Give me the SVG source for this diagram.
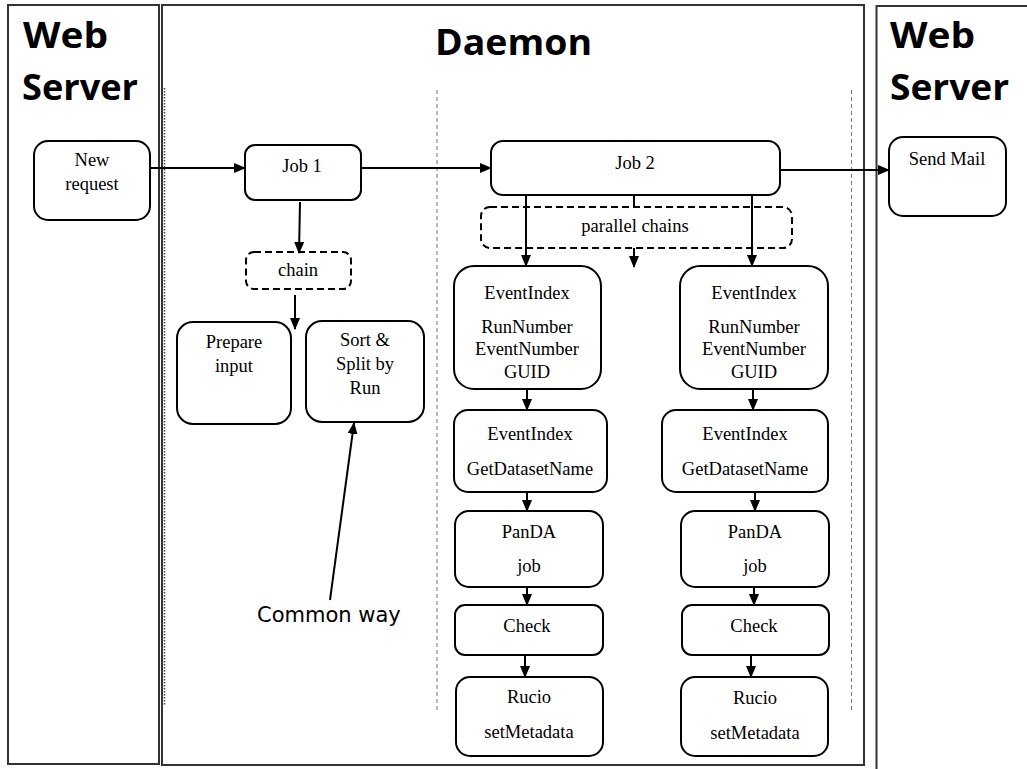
<svg xmlns="http://www.w3.org/2000/svg" width="1027" height="769" viewBox="0 0 1027 769">
<defs>
<style>
.panel{fill:none;stroke:#333;stroke-width:2}
.box{fill:#fff;stroke:#000;stroke-width:2}
.dbox{fill:none;stroke:#000;stroke-width:2;stroke-dasharray:7 4}
.t{font-family:"Liberation Serif","Times New Roman",serif;font-size:18.5px;fill:#000;text-anchor:middle}
.h{font-family:"Open Sans","Liberation Sans",sans-serif;font-weight:bold;font-size:36px;fill:#000}
.c{fill:none;stroke:#000;stroke-width:2}
.sep{stroke:#777;stroke-width:1;stroke-dasharray:4 3}
.cw{font-family:"DejaVu Sans",Verdana,sans-serif;font-size:21px;fill:#000}
</style>
<marker id="ah" markerUnits="userSpaceOnUse" markerWidth="12" markerHeight="10" refX="11" refY="5" orient="auto">
<path d="M0,0 L12,5 L0,10 Z" fill="#000"/>
</marker>
</defs>
<rect width="1027" height="769" fill="#fff"/>
<g id="panels">
<rect class="panel" x="8" y="5" width="151" height="759"/>
<rect class="panel" x="162" y="5" width="702" height="760"/>
<rect class="panel" x="876.5" y="6" width="160" height="770"/>
<line x1="164.5" y1="88" x2="164.5" y2="705" stroke="#444" stroke-width="1.5" stroke-dasharray="1.5 1.5"/>
<line class="sep" x1="437" y1="90" x2="437" y2="710"/>
<line class="sep" x1="851.5" y1="90" x2="851.5" y2="710"/>
<text class="h" x="23" y="48" textLength="85" lengthAdjust="spacingAndGlyphs">Web</text>
<text class="h" x="22" y="100" textLength="116" lengthAdjust="spacingAndGlyphs">Server</text>
<text class="h" x="435" y="55" textLength="157" lengthAdjust="spacingAndGlyphs">Daemon</text>
<text class="h" x="890" y="48" textLength="85" lengthAdjust="spacingAndGlyphs">Web</text>
<text class="h" x="890" y="100" textLength="119" lengthAdjust="spacingAndGlyphs">Server</text>
</g>
<g id="connectors">
<line class="c" x1="150" y1="168" x2="245" y2="168" marker-end="url(#ah)"/>
<line class="c" x1="361" y1="168" x2="491" y2="168" marker-end="url(#ah)"/>
<line class="c" x1="780" y1="170" x2="889" y2="170" marker-end="url(#ah)"/>
<line class="c" x1="300" y1="202" x2="299" y2="253" marker-end="url(#ah)"/>
<line class="c" x1="295" y1="295" x2="295" y2="329" marker-end="url(#ah)"/>
<line class="c" x1="330" y1="600" x2="354" y2="423" marker-end="url(#ah)"/>
<line class="c" x1="526" y1="195" x2="526" y2="266" marker-end="url(#ah)"/>
<line class="c" x1="752" y1="195" x2="752" y2="266" marker-end="url(#ah)"/>
<line class="c" x1="634" y1="195" x2="634" y2="207"/>
<line class="c" x1="634" y1="248" x2="634" y2="267" marker-end="url(#ah)"/>
<line class="c" x1="527" y1="389" x2="527" y2="410" marker-end="url(#ah)"/>
<line class="c" x1="527" y1="492" x2="527" y2="511" marker-end="url(#ah)"/>
<line class="c" x1="527" y1="587" x2="527" y2="605" marker-end="url(#ah)"/>
<line class="c" x1="525" y1="655" x2="525" y2="677" marker-end="url(#ah)"/>
<line class="c" x1="753" y1="389" x2="753" y2="410" marker-end="url(#ah)"/>
<line class="c" x1="755" y1="492" x2="755" y2="511" marker-end="url(#ah)"/>
<line class="c" x1="754" y1="587" x2="754" y2="605" marker-end="url(#ah)"/>
<line class="c" x1="751" y1="655" x2="751" y2="677" marker-end="url(#ah)"/>
</g>
<g id="new-request"><rect class="box" x="34" y="141" width="116" height="79" rx="14"/><text class="t" x="92" y="166">New</text><text class="t" x="92" y="190">request</text></g>
<g id="job1"><rect class="box" x="245" y="145" width="116" height="55" rx="10"/><text class="t" x="302" y="172">Job 1</text></g>
<g id="job2"><rect class="box" x="491" y="141" width="289" height="54" rx="12"/><text class="t" x="635" y="169">Job 2</text></g>
<g id="send-mail"><rect class="box" x="889" y="137" width="117" height="79" rx="14"/><text class="t" x="947" y="165">Send Mail</text></g>
<g id="chain"><rect class="dbox" x="246" y="252" width="105" height="37" rx="8"/><text class="t" x="298" y="276">chain</text></g>
<g id="parallel-chains"><rect class="dbox" x="481" y="207" width="311" height="41" rx="9"/><text class="t" x="635" y="232">parallel chains</text></g>
<g id="prepare-input"><rect class="box" x="177" y="322" width="114" height="102" rx="16"/><text class="t" x="234" y="348">Prepare</text><text class="t" x="234" y="372">input</text></g>
<g id="sort-split"><rect class="box" x="306" y="321" width="118" height="101" rx="16"/><text class="t" x="365" y="346">Sort &amp;</text><text class="t" x="365" y="370">Split by</text><text class="t" x="365" y="394">Run</text></g>
<g id="common-way"><text class="cw" x="257" y="622">Common way</text></g>
<g id="ei1-left"><rect class="box" x="454" y="266" width="147" height="123" rx="20"/><text class="t" x="527" y="299">EventIndex</text><text class="t" x="527" y="333">RunNumber</text><text class="t" x="527" y="355">EventNumber</text><text class="t" x="527" y="378">GUID</text></g>
<g id="ei1-right"><rect class="box" x="680" y="266" width="148" height="123" rx="20"/><text class="t" x="754" y="299">EventIndex</text><text class="t" x="754" y="333">RunNumber</text><text class="t" x="754" y="355">EventNumber</text><text class="t" x="754" y="378">GUID</text></g>
<g id="ei2-left"><rect class="box" x="454" y="410" width="153" height="82" rx="14"/><text class="t" x="530" y="440">EventIndex</text><text class="t" x="530" y="475">GetDatasetName</text></g>
<g id="ei2-right"><rect class="box" x="662" y="410" width="166" height="82" rx="14"/><text class="t" x="745" y="440">EventIndex</text><text class="t" x="745" y="475">GetDatasetName</text></g>
<g id="panda-left"><rect class="box" x="455" y="511" width="148" height="76" rx="14"/><text class="t" x="529" y="538">PanDA</text><text class="t" x="529" y="572">job</text></g>
<g id="panda-right"><rect class="box" x="681" y="511" width="148" height="76" rx="14"/><text class="t" x="755" y="538">PanDA</text><text class="t" x="755" y="572">job</text></g>
<g id="check-left"><rect class="box" x="455" y="605" width="148" height="50" rx="10"/><text class="t" x="527" y="632">Check</text></g>
<g id="check-right"><rect class="box" x="682" y="605" width="147" height="50" rx="10"/><text class="t" x="754" y="632">Check</text></g>
<g id="rucio-left"><rect class="box" x="456" y="677" width="147" height="79" rx="14"/><text class="t" x="529" y="703">Rucio</text><text class="t" x="529" y="738">setMetadata</text></g>
<g id="rucio-right"><rect class="box" x="681" y="677" width="147" height="79" rx="14"/><text class="t" x="755" y="704">Rucio</text><text class="t" x="755" y="739">setMetadata</text></g>
</svg>
